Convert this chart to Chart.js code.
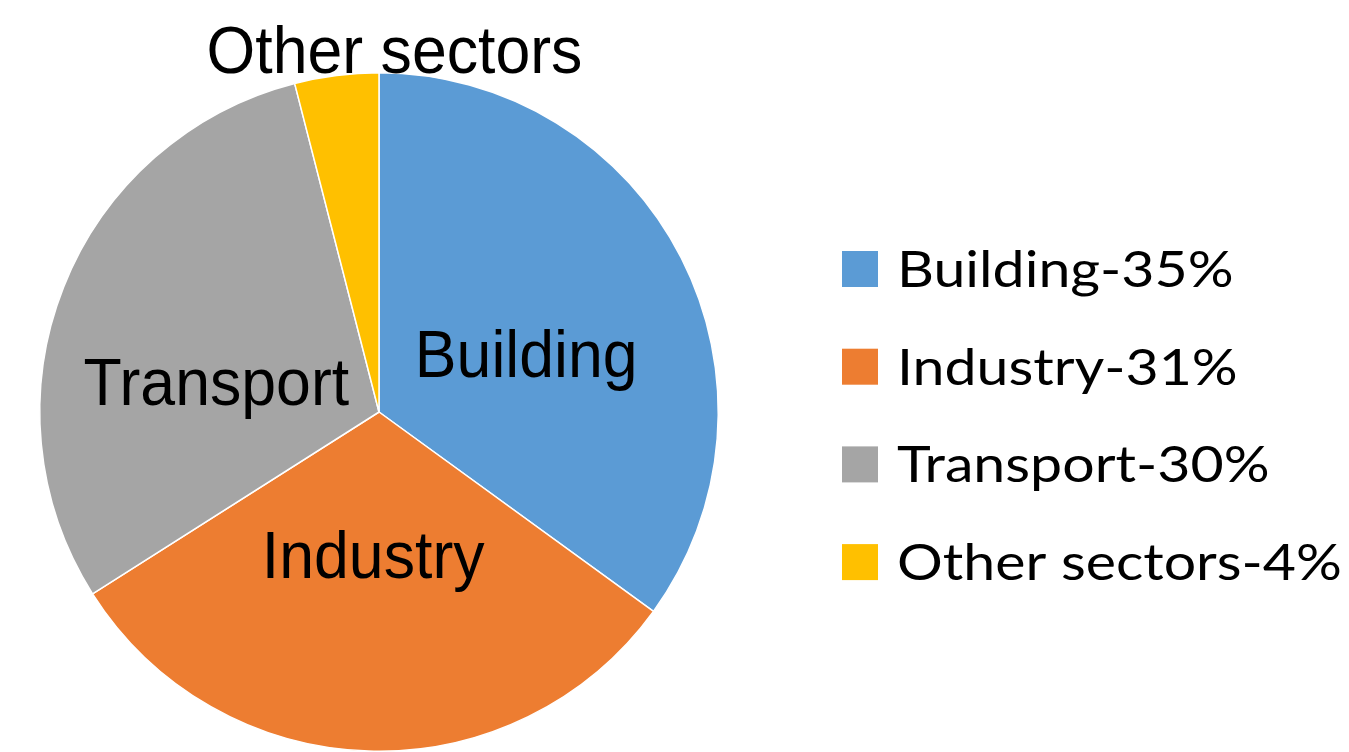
<!DOCTYPE html>
<html>
<head>
<meta charset="utf-8">
<style>
  html, body { margin: 0; padding: 0; background: #ffffff; }
  #wrap { position: relative; width: 1349px; height: 752px; }
</style>
<script src="https://cdn.jsdelivr.net/npm/chart.js@4/dist/chart.umd.min.js"></script>
</head>
<body>
<div id="wrap"><canvas id="c" width="1349" height="752"></canvas></div>
<script>
// ---- data ----
const categories = ["Building", "Industry", "Transport", "Other sectors"];
const shares = [35, 31, 30, 4];
const legendLabels = ["Building-35%", "Industry-31%", "Transport-30%", "Other sectors-4%"];
const colors = ["#5B9BD5", "#ED7D31", "#A5A5A5", "#FFC000"];

// slice-label placement (polar, relative to each arc): fraction through the slice angle, fraction of radius
const labelAngleFrac = [0.54, 0.505, 0.40, 1.17];
const labelRadiusFrac = [0.468, 0.418, 0.488, 1.07];

const sliceLabelPlugin = {
  id: 'sliceLabels',
  afterDatasetsDraw(chart) {
    const ctx = chart.ctx;
    const meta = chart.getDatasetMeta(0);
    const fontPx = 62, scaleY = 1.08, cap = fontPx * 0.716 * scaleY;
    ctx.save();
    ctx.fillStyle = '#000000';
    ctx.font = fontPx + 'px "Liberation Sans", Arial, sans-serif';
    ctx.textAlign = 'center';
    ctx.textBaseline = 'alphabetic';
    meta.data.forEach((arc, i) => {
      const p = arc.getProps(['x', 'y', 'startAngle', 'endAngle', 'outerRadius'], true);
      const a = p.startAngle + (p.endAngle - p.startAngle) * labelAngleFrac[i];
      const r = p.outerRadius * labelRadiusFrac[i];
      const cx = p.x + Math.cos(a) * r;
      const cy = p.y + Math.sin(a) * r;
      ctx.save();
      ctx.translate(cx, cy + cap / 2);
      ctx.scale(1.01, scaleY);
      ctx.fillText(chart.data.labels[i], 0, 0);
      ctx.restore();
    });
    ctx.restore();
  }
};

const legendPlugin = {
  id: 'sideLegend',
  afterDraw(chart) {
    const ctx = chart.ctx;
    const ds = chart.data.datasets[0];
    const opts = chart.options.plugins.sideLegend;
    ctx.save();
    ctx.font = opts.fontPx + 'px Lato, "Open Sans", sans-serif';
    ctx.textAlign = 'left';
    ctx.textBaseline = 'alphabetic';
    legendLabels.forEach((txt, i) => {
      const base = opts.firstBaseline + i * opts.rowGap;
      ctx.fillStyle = ds.backgroundColor[i];
      ctx.fillRect(opts.boxX, base - opts.box, opts.box, opts.box);
      ctx.fillStyle = '#000000';
      ctx.save();
      ctx.translate(opts.textX, base);
      ctx.scale(opts.scaleX, 1);
      ctx.fillText(txt, 0, 0);
      ctx.restore();
    });
    ctx.restore();
  }
};

new Chart(document.getElementById('c'), {
  type: 'pie',
  data: {
    labels: categories,
    datasets: [{
      data: shares,
      backgroundColor: colors,
      borderColor: '#ffffff',
      borderWidth: 1.5
    }]
  },
  options: {
    responsive: false,
    animation: false,
    layout: { padding: { top: 72, bottom: 0, left: 38, right: 629 } },
    plugins: {
      legend: { display: false },
      tooltip: { enabled: false },
      sideLegend: { boxX: 842, box: 36, textX: 897, firstBaseline: 287, rowGap: 97.7, fontPx: 50, scaleX: 1.145 }
    }
  },
  plugins: [sliceLabelPlugin, legendPlugin]
});
</script>
</body>
</html>
